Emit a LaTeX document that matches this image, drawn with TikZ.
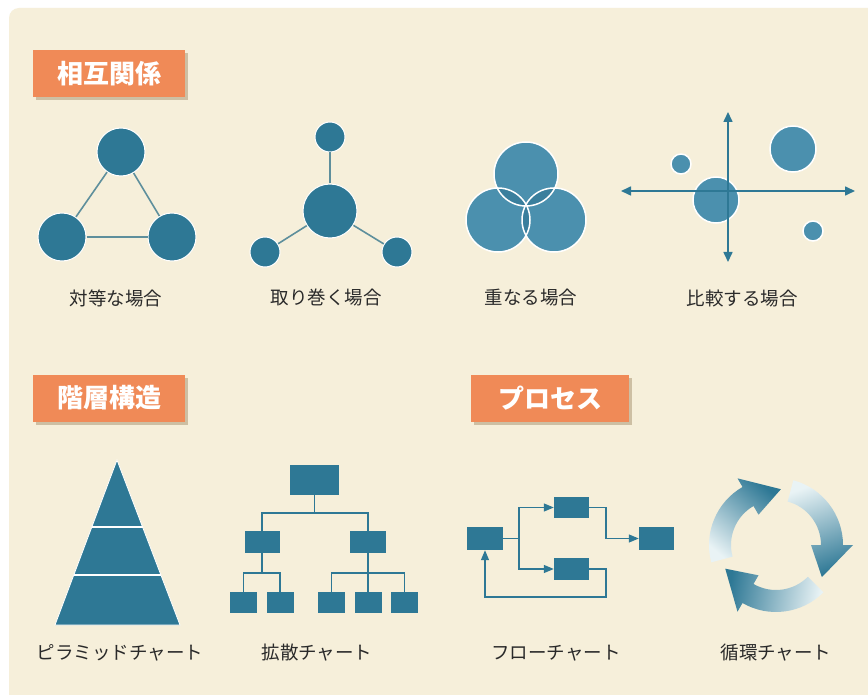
\documentclass[tikz,border=0pt]{standalone}
\usepackage{fontspec}
\newfontfamily\jpfont{Noto Sans CJK JP}
\usetikzlibrary{arrows.meta, shadows, calc}
\definecolor{paper}{HTML}{F6EFDA}
\definecolor{tealdark}{HTML}{2E7895}
\definecolor{teallight}{HTML}{4B90AE}
\definecolor{tealdeep}{HTML}{3A7F9D}
\definecolor{tabfill}{HTML}{F08A57}
\definecolor{tabshadow}{HTML}{CDBFA3}
\definecolor{linkgray}{HTML}{5E8F9C}
\definecolor{inkdark}{HTML}{2A2A2A}
\definecolor{palecyan}{HTML}{E9F3F5}
\tikzstyle{tab} = [rectangle, fill=tabfill, text=white, font=\jpfont\bfseries\fontsize{26}{30}\selectfont, minimum width=152pt, minimum height=47pt, inner sep=0pt, drop shadow={shadow xshift=3pt, shadow yshift=-3pt, fill=tabshadow, opacity=1}]
\tikzstyle{caption} = [text=inkdark, font=\jpfont\fontsize{18.5}{20}\selectfont]
\tikzstyle{bigdot} = [circle, fill=tealdark, draw=white, line width=1pt, minimum size=48pt, inner sep=0pt]
\tikzstyle{hubdot} = [circle, fill=tealdark, draw=white, line width=1pt, minimum size=54pt, inner sep=0pt]
\tikzstyle{smalldot} = [circle, fill=tealdark, draw=white, line width=1pt, minimum size=30pt, inner sep=0pt]
\tikzstyle{link} = [draw=linkgray, line width=1.6pt]
\tikzstyle{vennset} = [circle, fill=teallight, minimum size=64pt, inner sep=0pt]
\tikzstyle{plotdot} = [circle, fill=teallight, draw=white, line width=1.5pt, inner sep=0pt]
\tikzstyle{plotaxis} = [draw=tealdark, line width=1.6pt, {Triangle[length=10pt,width=9pt]}-{Triangle[length=10pt,width=9pt]}]
\tikzstyle{box} = [rectangle, fill=tealdark, inner sep=0pt]
\tikzstyle{tline} = [draw=tealdark, line width=1.3pt]
\tikzstyle{arrow} = [draw=tealdark, line width=1.3pt, -{Triangle[length=10pt,width=8pt]}]

\begin{document}
\begin{tikzpicture}[x=1pt, y=-1pt]
            \useasboundingbox (0,0) rectangle (868,695);
            \clip (0,0) rectangle (868,695);
            \fill[white] (0,0) rectangle (868,695);
            \fill[paper, rounded corners=10pt] (9,8) rectangle (890,720);

            \node [tab] at (109,74) (hdrel) {相互関係};
            \node [tab] at (109,398) (hdhier) {階層構造};
            \node [tab, minimum width=158pt] at (550,398) (hdproc) {プロセス};

            \node [bigdot] at (121,152) (eqtop) {};
            \node [bigdot] at (62,237) (eqleft) {};
            \node [bigdot] at (172,237) (eqright) {};
            \draw [link] (eqtop) -- (eqleft);
            \draw [link] (eqleft) -- (eqright);
            \draw [link] (eqright) -- (eqtop);
            \node [caption] at (116,298) (capeq) {対等な場合};

            \node [hubdot] at (330,211) (hub) {};
            \node [smalldot] at (330,137) (hubtop) {};
            \node [smalldot] at (265,252) (hubleft) {};
            \node [smalldot] at (397,252) (hubright) {};
            \draw [link] (hub) -- (hubtop);
            \draw [link] (hub) -- (hubleft);
            \draw [link] (hub) -- (hubright);
            \node [caption] at (326,298) (caphub) {取り巻く場合};

            \node [vennset] at (526,174) (vtop) {};
            \node [vennset] at (498,220) (vleft) {};
            \node [vennset] at (554,220) (vright) {};
            \begin{scope}
              \clip (vtop) circle (32pt);
              \fill[tealdeep] (vleft) circle (32pt);
              \fill[tealdeep] (vright) circle (32pt);
            \end{scope}
            \begin{scope}
              \clip (vleft) circle (32pt);
              \fill[tealdeep] (vright) circle (32pt);
            \end{scope}
            \draw[white, line width=1.5pt] (vtop) circle (32pt) (vleft) circle (32pt) (vright) circle (32pt);
            \node [caption] at (531,298) (capvenn) {重なる場合};

            \node [plotdot, minimum size=46pt] at (716,200) (pbig) {};
            \node [plotdot, minimum size=46pt] at (793,149) (phigh) {};
            \node [plotdot, minimum size=20pt] at (681,164) (pleft) {};
            \node [plotdot, minimum size=20pt] at (813,231) (plow) {};
            \coordinate (axW) at (621,191);
            \coordinate (axE) at (855,191);
            \coordinate (axN) at (728,112);
            \coordinate (axS) at (728,262);
            \draw [plotaxis] (axW) -- (axE);
            \draw [plotaxis] (axN) -- (axS);
            \node [caption] at (742,298) (capcmp) {比較する場合};

            \coordinate (apex) at (117,460);
            \coordinate (baseL) at (55,625);
            \coordinate (baseR) at (180,625);
            \fill[tealdark, draw=white, line width=0.8pt] (apex) -- (baseR) -- (baseL) -- cycle;
            \draw[white, line width=2pt] ($(apex)!0.406!(baseL)$) -- ($(apex)!0.406!(baseR)$);
            \draw[white, line width=2pt] ($(apex)!0.697!(baseL)$) -- ($(apex)!0.697!(baseR)$);
            \node [caption] at (120,653) (cappyr) {ピラミッドチャート};

            \node [box, minimum width=49pt, minimum height=30pt] at (314.5,480) (troot) {};
            \node [box, minimum width=35pt, minimum height=22pt] at (262,542) (tmidL) {};
            \node [box, minimum width=36pt, minimum height=22pt] at (368,542) (tmidR) {};
            \node [box, minimum width=27pt, minimum height=21pt] at (243.5,602.5) (tLa) {};
            \node [box, minimum width=27pt, minimum height=21pt] at (280,602.5) (tLb) {};
            \node [box, minimum width=27pt, minimum height=21pt] at (331.5,602.5) (tRa) {};
            \node [box, minimum width=27pt, minimum height=21pt] at (368,602.5) (tRb) {};
            \node [box, minimum width=27pt, minimum height=21pt] at (404.5,602.5) (tRc) {};
            \coordinate (bus1) at (0,513);
            \coordinate (bus2) at (0,573);
            \draw [tline] (troot) -- (troot |- bus1) -| (tmidL);
            \draw [tline] (troot |- bus1) -| (tmidR);
            \draw [tline] (tmidL) -- (tmidL |- bus2) -| (tLa);
            \draw [tline] (tmidL |- bus2) -| (tLb);
            \draw [tline] (tmidR) -- (tRb);
            \draw [tline] (tmidR |- bus2) -| (tRa);
            \draw [tline] (tmidR |- bus2) -| (tRc);
            \node [caption] at (317,653) (captree) {拡散チャート};

            \node [box, minimum width=36pt, minimum height=23pt] at (485,538.5) (fA) {};
            \node [box, minimum width=35pt, minimum height=21pt] at (571.5,507.5) (fB) {};
            \node [box, minimum width=35pt, minimum height=22pt] at (571.5,569) (fC) {};
            \node [box, minimum width=35pt, minimum height=23pt] at (656.5,538.5) (fD) {};
            \coordinate (split) at (519,538.5);
            \coordinate (merge) at (606,538.5);
            \coordinate (back) at (606,597);
            \draw [tline] (fA) -- (split);
            \draw [arrow] (split) |- (fB);
            \draw [arrow] (split) |- (fC);
            \draw [arrow] (fB) -| (merge) -- (fD);
            \draw [arrow] (fC) -| (back) -| (fA);
            \node [caption] at (556,653) (capflow) {フローチャート};

            \begin{scope}[shift={(776,545)}]
              \foreach \r/\sa in {0/-40, 120/-160, 240/80}
                \shade[top color=tealdark, bottom color=palecyan, shading angle=\sa]
                  (195-\r:67pt) arc[start angle=195-\r, end angle=120-\r, radius=67pt]
                  -- (120-\r:77pt) -- (85-\r:56pt) -- (120-\r:35pt) -- (120-\r:45pt)
                  arc[start angle=120-\r, end angle=195-\r, radius=45pt] -- cycle;
            \end{scope}
            \node [caption] at (776,653) (capcycle) {循環チャート};
\end{tikzpicture}
\end{document}
